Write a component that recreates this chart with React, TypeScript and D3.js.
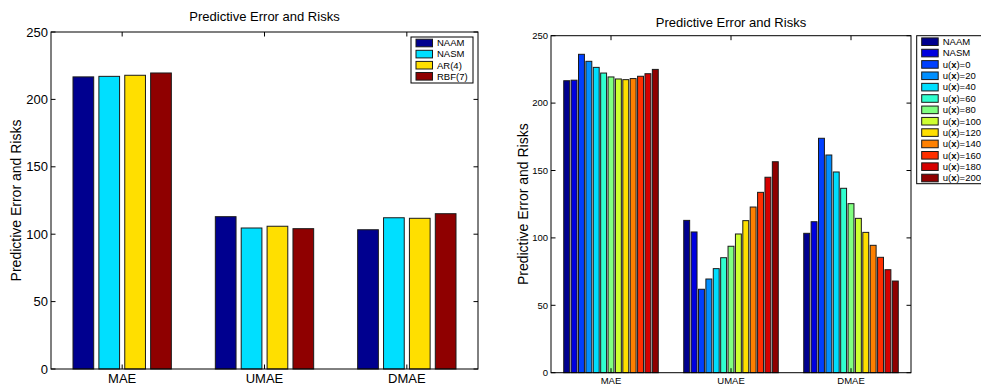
import * as d3 from "d3"

const categories = ["MAE", "UMAE", "DMAE"]
const yTicks = [0, 50, 100, 150, 200, 250]

// left panel: four methods
const leftSeries = ["NAAM", "NASM", "AR(4)", "RBF(7)"]
const leftColors = ["#00008f", "#00dfff", "#ffdf00", "#8f0000"]
const leftValues = [
  [216.7, 113.0, 103.3],
  [217.1, 104.6, 112.2],
  [217.9, 105.9, 111.8],
  [219.6, 104.1, 115.2],
]

// right panel: NAAM, NASM and the u(x) sweep
const rightSeries = ["NAAM", "NASM", "0", "20", "40", "60", "80", "100", "120", "140", "160", "180", "200"]
const rightColors = [
  "#00008f", "#0000df", "#0040ff", "#008fff", "#00dfff", "#30ffcf", "#80ff80",
  "#cfff30", "#ffdf00", "#ff8000", "#ff3000", "#d60000", "#8f0000",
]
const rightValues = [
  [216.6, 113.0, 103.4],
  [217.0, 104.4, 112.0],
  [236.2, 61.9, 173.9],
  [231.0, 69.5, 161.5],
  [226.5, 77.2, 148.9],
  [222.3, 85.3, 136.8],
  [219.4, 93.8, 125.4],
  [217.9, 102.9, 114.5],
  [217.4, 112.8, 104.1],
  [218.2, 122.9, 94.5],
  [219.9, 133.8, 85.6],
  [221.8, 145.0, 76.4],
  [225.0, 156.5, 68.0],
]

const FONT = "'Liberation Sans', Arial, Helvetica, sans-serif"

type PanelProps = {
  left: number
  right: number
  top: number
  bottom: number
  series: string[]
  colors: string[]
  values: number[][]
  tickSize: number
  catSize: number
  titleY: number
  ylabelX: number
  legend: { x: number; y: number; w: number; h: number; step: number }
  uLabels: boolean
}

function Panel(p: PanelProps) {
  const x = d3.scaleLinear().domain([0.5, 3.5]).range([p.left, p.right])
  const y = d3.scaleLinear().domain([0, 250]).range([p.bottom, p.top])
  const n = p.series.length
  const gw = Math.min(0.8, n / (n + 1.5))
  const bw = (gw / n) * 0.8
  const tick = 4.5
  const midX = (p.left + p.right) / 2
  const midY = (p.top + p.bottom) / 2

  return (
    <g fontFamily={FONT}>
      {p.values.map((vals, k) =>
        vals.map((v, c) => {
          const cx = c + 1 - gw / 2 + ((2 * k + 1) * gw) / (2 * n)
          const x0 = x(cx - bw / 2)
          const x1 = x(cx + bw / 2)
          return (
            <rect
              key={`${k}-${c}`}
              x={x0}
              y={y(v)}
              width={x1 - x0}
              height={y(0) - y(v)}
              fill={p.colors[k]}
              stroke="#1a1a1a"
              strokeWidth={1}
            />
          )
        })
      )}
      <rect
        x={p.left}
        y={p.top}
        width={p.right - p.left}
        height={p.bottom - p.top}
        fill="none"
        stroke="#000"
        strokeWidth={1}
      />
      {yTicks.map((t) => (
        <g key={t}>
          <line x1={p.left} x2={p.left + tick} y1={y(t)} y2={y(t)} stroke="#000" />
          <line x1={p.right} x2={p.right - tick} y1={y(t)} y2={y(t)} stroke="#000" />
          <text
            x={p.left - 3}
            y={y(t)}
            dy="0.35em"
            textAnchor="end"
            fontSize={p.tickSize}
          >
            {t}
          </text>
        </g>
      ))}
      {categories.map((c, i) => (
        <g key={c}>
          <line x1={x(i + 1)} x2={x(i + 1)} y1={p.bottom} y2={p.bottom - tick} stroke="#000" />
          <line x1={x(i + 1)} x2={x(i + 1)} y1={p.top} y2={p.top + tick} stroke="#000" />
          <text x={x(i + 1)} y={p.bottom + p.catSize * 0.95 + 2} textAnchor="middle" fontSize={p.catSize}>
            {c}
          </text>
        </g>
      ))}
      <text x={midX} y={p.titleY} textAnchor="middle" fontSize={13}>
        Predictive Error and Risks
      </text>
      <text
        transform={`translate(${p.ylabelX},${midY}) rotate(-90)`}
        textAnchor="middle"
        fontSize={14}
      >
        Predictive Error and Risks
      </text>
      <rect
        x={p.legend.x}
        y={p.legend.y}
        width={p.legend.w}
        height={p.legend.h}
        fill="#fff"
        stroke="#000"
        strokeWidth={1}
      />
      {p.series.map((s, k) => {
        const cy = p.legend.y + 6 + k * p.legend.step
        return (
          <g key={s}>
            <rect
              x={p.legend.x + 5}
              y={cy - 3.8}
              width={16.5}
              height={7.6}
              fill={p.colors[k]}
              stroke="#1a1a1a"
              strokeWidth={1}
            />
            <text x={p.legend.x + 26} y={cy} dy="0.35em" fontSize={9.5}>
              {p.uLabels && k >= 2 ? (
                <>
                  u(<tspan fontWeight="bold">x</tspan>)={s}
                </>
              ) : (
                s
              )}
            </text>
          </g>
        )
      })}
    </g>
  )
}

export default function App() {
  return (
    <svg
      width={981}
      height={390}
      style={{ position: "absolute", left: 0, top: 0, background: "#fff" }}
    >
      <rect width={981} height={390} fill="#fff" />
      <Panel
        left={51}
        right={478}
        top={32}
        bottom={369}
        series={leftSeries}
        colors={leftColors}
        values={leftValues}
        tickSize={13}
        catSize={13}
        titleY={21}
        ylabelX={21}
        legend={{ x: 411, y: 37, w: 62, h: 46, step: 11.1 }}
        uLabels={false}
      />
      <Panel
        left={551}
        right={911}
        top={35.7}
        bottom={372.7}
        series={rightSeries}
        colors={rightColors}
        values={rightValues}
        tickSize={9.5}
        catSize={9.5}
        titleY={27}
        ylabelX={528}
        legend={{ x: 916.7, y: 35.7, w: 80, h: 148, step: 11.36 }}
        uLabels={true}
      />
    </svg>
  )
}
